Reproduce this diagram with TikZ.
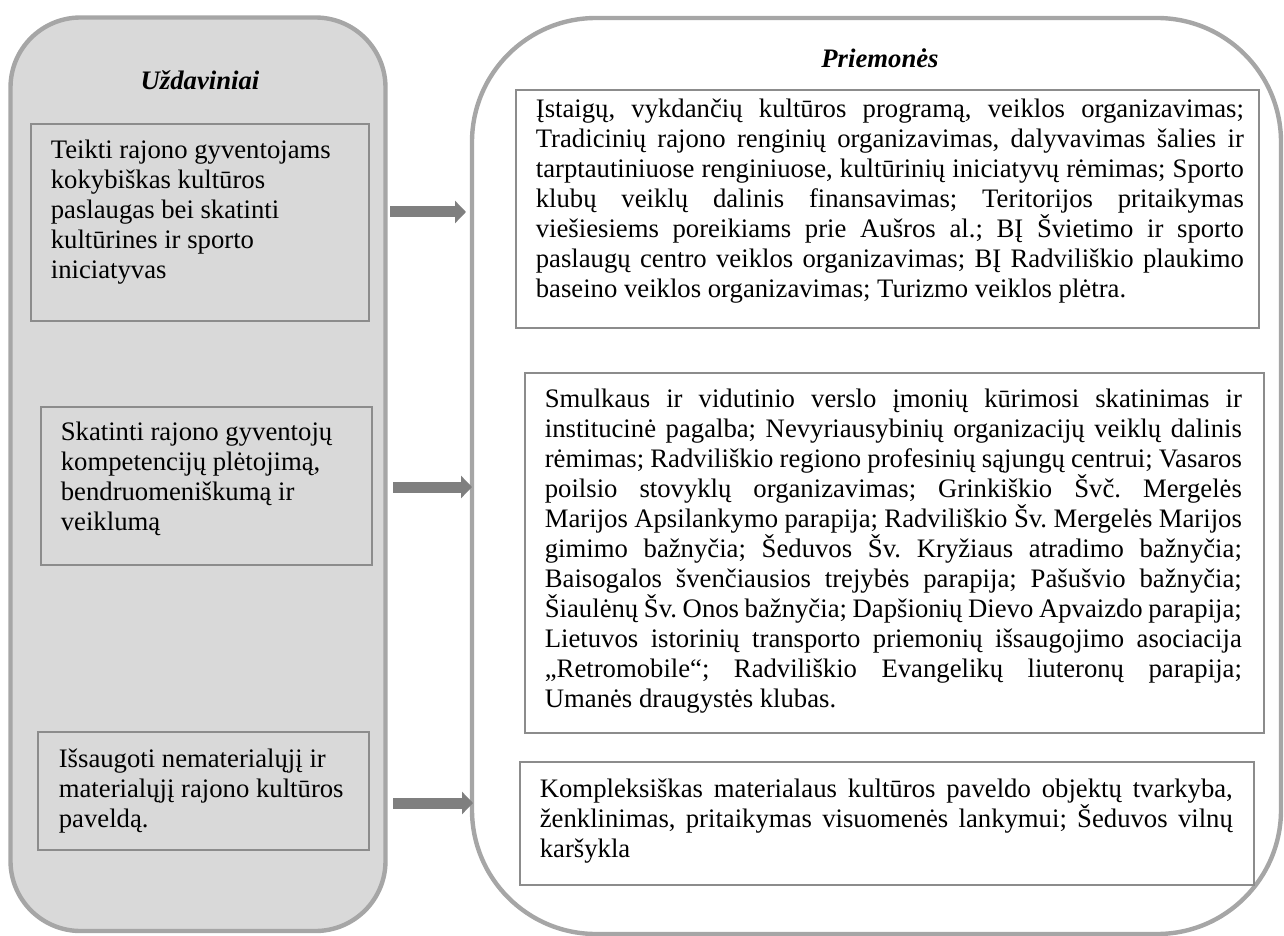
\documentclass[tikz,border=0pt]{standalone}
\usepackage{fontspec}
\setmainfont{Liberation Serif}
\usetikzlibrary{arrows.meta}
\definecolor{panelfill}{HTML}{D9D9D9}
\definecolor{panelline}{HTML}{A6A6A6}
\definecolor{boxline}{HTML}{8C8C8C}
\definecolor{arrowgray}{HTML}{7F7F7F}
\newcommand{\bodyfont}{\fontsize{13.35pt}{15pt}\selectfont}
% #1 left inset, #2 text width, #3 right inset, #4 height, #5 first baseline, #6 text
\newcommand{\boxcontent}[6]{%
  \hspace*{#1}\parbox[t][#4][t]{#2}{\bodyfont\frenchspacing
    \hyphenpenalty=10000 \exhyphenpenalty=10000 \tolerance=10000 \hbadness=10000
    \rule{0pt}{#5}#6}\hspace*{#3}}
\begin{document}
\begin{tikzpicture}[x=0.5pt,y=-0.5pt,
  panelL/.style={draw=panelline, fill=panelfill, line width=2.2pt, rounded corners=35pt, inner sep=0pt},
  panelR/.style={draw=panelline, fill=white, line width=2.2pt, rounded corners=62pt, inner sep=0pt},
  taskbox/.style={draw=boxline, line width=0.85pt, inner sep=0pt, anchor=north west},
  meanbox/.style={draw=boxline, fill=white, line width=0.85pt, inner sep=0pt, anchor=north west},
  titletext/.style={font=\fontsize{13.35pt}{15pt}\selectfont\bfseries\itshape, anchor=base, inner sep=0pt},
  bigarrow/.style={draw=arrowgray, line width=5.5pt, -{Triangle[length=5.5pt,width=11pt]}, arrowgray}
]
\useasboundingbox (0,0) rectangle (1284,936);

% panels
\node[panelL, minimum width=187.5pt, minimum height=456.75pt] (panL) at (198,474.25) {};
\node[panelR, minimum width=404.5pt, minimum height=458pt] (panR) at (876.5,476) {};

% titles
\node[titletext] (tL) at (200,90) {Uždaviniai};
\node[titletext] (tR) at (880,68) {Priemonės};

% task boxes
\node[taskbox] (L1) at (30,123) {\boxcontent{10pt}{149pt}{10pt}{98.5pt}{17.5pt}{\raggedright
Teikti rajono gyventojams\\ kokybiškas kultūros\\ paslaugas bei skatinti\\ kultūrines ir sporto\\ iniciatyvas}};
\node[taskbox] (L2) at (40,406) {\boxcontent{10pt}{145.5pt}{10pt}{79pt}{17pt}{\raggedright
Skatinti rajono gyventojų\\ kompetencijų plėtojimą,\\ bendruomeniškumą ir\\ veiklumą}};
\node[taskbox] (L3) at (37,731) {\boxcontent{10.5pt}{145pt}{10pt}{59pt}{18pt}{\raggedright
Išsaugoti nematerialųjį ir\\ materialųjį rajono kultūros\\ paveldą.}};

% means boxes
\node[meanbox] (R1) at (515,89) {\boxcontent{10pt}{354pt}{7.5pt}{119pt}{14pt}{%
Įstaigų, vykdančių kultūros programą, veiklos organizavimas;\linebreak
Tradicinių rajono renginių organizavimas, dalyvavimas šalies ir\linebreak
tarptautiniuose renginiuose, kultūrinių iniciatyvų rėmimas; Sporto\linebreak
klubų veiklų dalinis finansavimas; Teritorijos pritaikymas\linebreak
viešiesiems poreikiams prie Aušros al.; BĮ Švietimo ir sporto\linebreak
paslaugų centro veiklos organizavimas; BĮ Radviliškio plaukimo\linebreak
baseino veiklos organizavimas; Turizmo veiklos plėtra.}};

\node[meanbox] (R2) at (524,372) {\boxcontent{10pt}{348.5pt}{11pt}{180pt}{17.5pt}{%
Smulkaus ir vidutinio verslo įmonių kūrimosi skatinimas ir\linebreak
institucinė pagalba; Nevyriausybinių organizacijų veiklų dalinis\linebreak
rėmimas; Radviliškio regiono profesinių sąjungų centrui; Vasaros\linebreak
poilsio stovyklų organizavimas; Grinkiškio Švč. Mergelės\linebreak
Marijos Apsilankymo parapija; Radviliškio Šv. Mergelės Marijos\linebreak
gimimo bažnyčia; Šeduvos Šv. Kryžiaus atradimo bažnyčia;\linebreak
Baisogalos švenčiausios trejybės parapija; Pašušvio bažnyčia;\linebreak
Šiaulėnų Šv. Onos bažnyčia; Dapšionių Dievo Apvaizdo parapija;\linebreak
Lietuvos istorinių transporto priemonių išsaugojimo asociacija\linebreak
„Retromobile“; Radviliškio Evangelikų liuteronų parapija;\linebreak
Umanės draugystės klubas.}};

\node[meanbox] (R3) at (519,761) {\boxcontent{10pt}{346.5pt}{10.5pt}{61.5pt}{18pt}{%
Kompleksiškas materialaus kultūros paveldo objektų tvarkyba,\linebreak
ženklinimas, pritaikymas visuomenės lankymui; Šeduvos vilnų\linebreak
karšykla}};

% arrows
\coordinate (a1s) at (390,212);
\coordinate (a1e) at (466,212);
\coordinate (a2s) at (393,487);
\coordinate (a2e) at (472,487);
\coordinate (a3s) at (393,803);
\coordinate (a3e) at (473,803);
\draw[bigarrow] (a1s) -- (a1e);
\draw[bigarrow] (a2s) -- (a2e);
\draw[bigarrow] (a3s) -- (a3e);
\end{tikzpicture}
\end{document}
